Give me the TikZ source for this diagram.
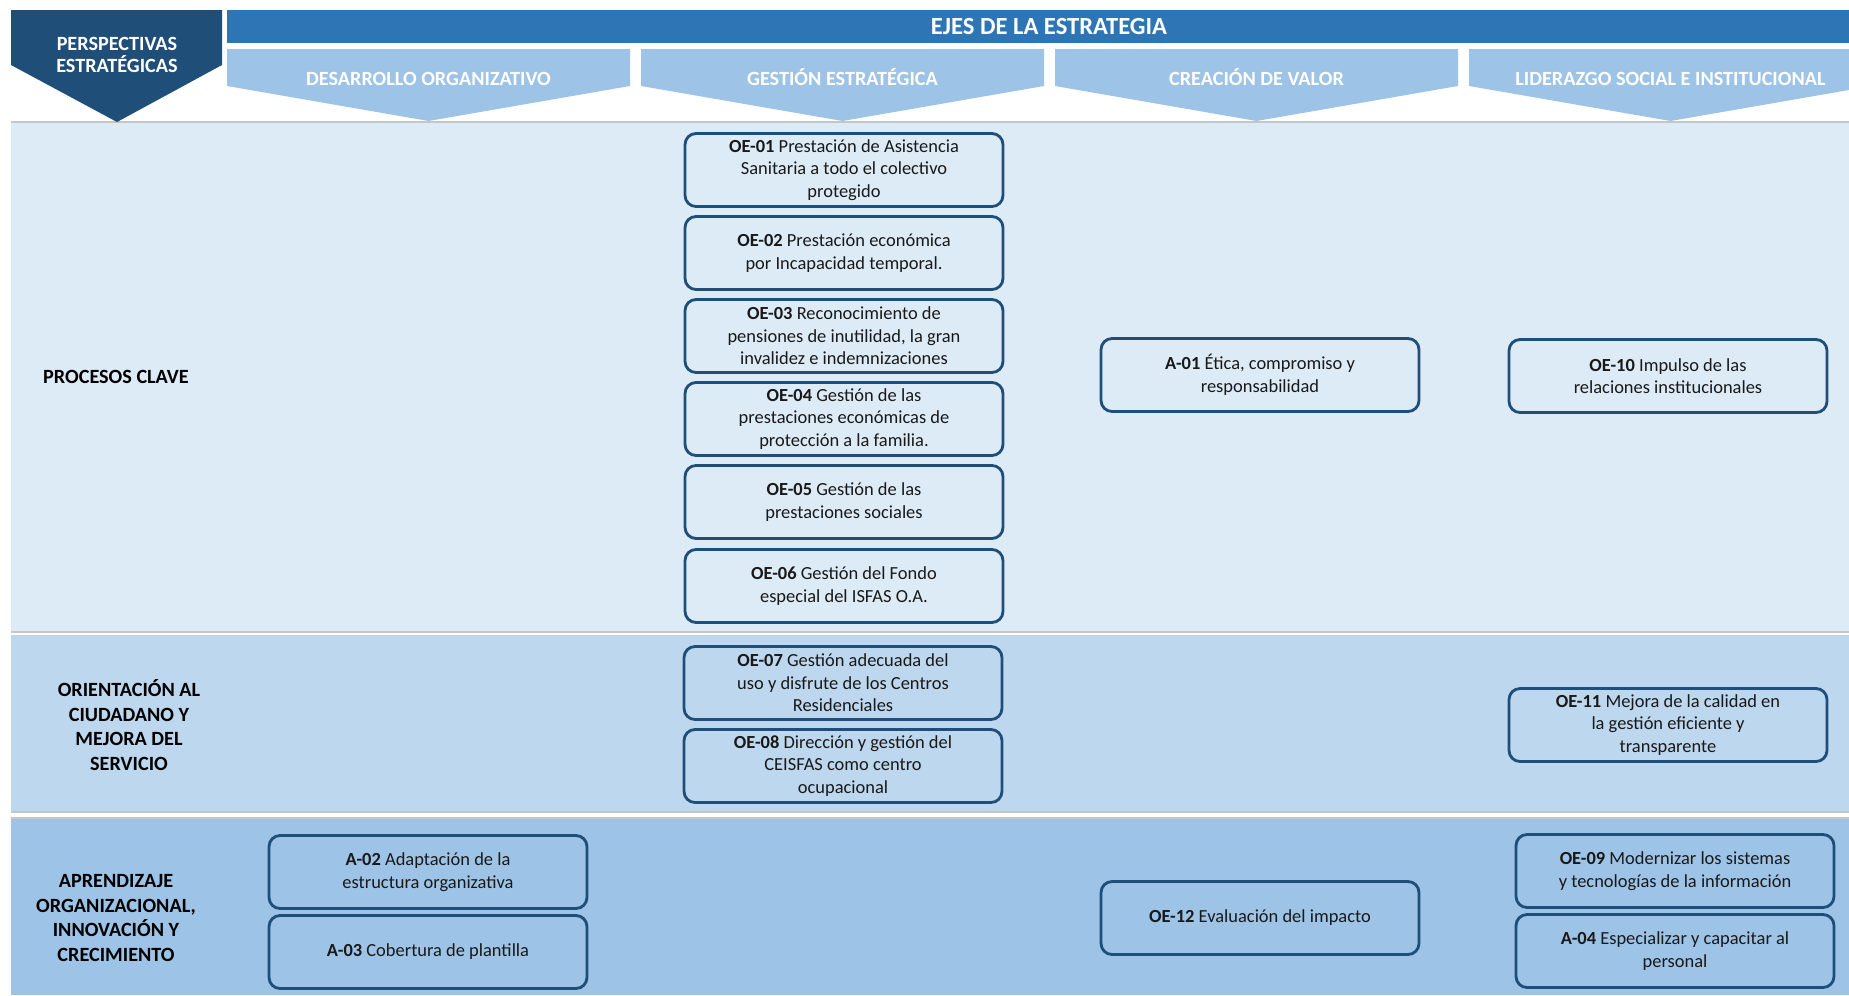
\documentclass[tikz,border=0pt]{standalone}
\usepackage{fontspec}
\setmainfont{Carlito}
\usepackage{xcolor}
\usepackage{tikz}
\usetikzlibrary{positioning}

\definecolor{navy}{HTML}{1F4E79}
\definecolor{barblue}{HTML}{2E75B6}
\definecolor{banner}{HTML}{9DC3E6}
\definecolor{rowA}{HTML}{DDEBF7}
\definecolor{rowB}{HTML}{BDD7EE}
\definecolor{rowC}{HTML}{9DC3E6}
\definecolor{boxline}{HTML}{1F4E79}

\begin{document}
\begin{tikzpicture}[x=0.02cm,y=-0.02cm,
  obj/.style={draw=boxline,line width=1.6pt,rounded corners=0.22cm,
    minimum width=6.36cm,minimum height=1.46cm,align=center,inner sep=0pt,
    text=black!90,font=\fontsize{10.5}{12.8}\selectfont},
  rowlab/.style={align=center,font=\fontsize{11.5}{14}\selectfont\bfseries},
  headtxt/.style={text=white,align=center,font=\fontsize{11.5}{13}\selectfont\bfseries}]

\useasboundingbox (0,0) rectangle (1849,995);
\clip (0,0) rectangle (1849,995);

% --- rows (perspectives) ---
\fill[rowA] (11,122) rectangle (1849,632);
\fill[rowB] (11,635) rectangle (1849,812);
\fill[rowC] (11,818) rectangle (1849,995);
\draw[gray!45,line width=0.8pt] (11,122) -- (1849,122);
\draw[gray!45,line width=0.8pt] (11,632) -- (1849,632);
\draw[gray!45,line width=0.8pt] (11,812) -- (1849,812);
\draw[gray!45,line width=0.8pt] (11,818) -- (1849,818);

% --- header ---
\fill[navy] (11,10) -- (222,10) -- (222,65) -- (117,122) -- (11,65) -- cycle;
\node[headtxt] (persp) at (117,55) {PERSPECTIVAS\\ESTRATÉGICAS};
\fill[barblue] (227,10) rectangle (1873,43);
\node[headtxt,font=\fontsize{14}{16}\selectfont\bfseries,text height=1.6ex,text depth=0.2ex] (ejes) at (1049,29) {EJES DE LA ESTRATEGIA};

% axes banners
\foreach \x/\name/\txt in {227/des/DESARROLLO ORGANIZATIVO,641/ges/GESTIÓN ESTRATÉGICA,
    1055/cre/CREACIÓN DE VALOR,1469/lid/LIDERAZGO SOCIAL E INSTITUCIONAL} {
  \fill[banner] (\x,49) -- (\x+403,49) -- (\x+403,86) -- (\x+201.5,121) -- (\x,86) -- cycle;
  \node[headtxt,text height=1.6ex,text depth=0.2ex] (\name) at (\x+201.5,79.5) {\txt};
}

% --- row labels ---
\node[rowlab] (clave) at (116,377) {PROCESOS CLAVE};
\node[rowlab] (ciud) at (129,725) {ORIENTACIÓN AL\\CIUDADANO Y\\MEJORA DEL\\SERVICIO};
\node[rowlab] (apren) at (116,918) {APRENDIZAJE\\ORGANIZACIONAL,\\INNOVACIÓN Y\\CRECIMIENTO};

% --- gestion estrategica ---
\node[obj] (oe01) at (844,170) {\textbf{OE-01} Prestación de Asistencia\\Sanitaria a todo el colectivo\\protegido};
\node[obj,below=0.144cm of oe01] (oe02) {\textbf{OE-02} Prestación económica\\por Incapacidad temporal.};
\node[obj,below=0.144cm of oe02] (oe03) {\textbf{OE-03} Reconocimiento de\\pensiones de inutilidad, la gran\\invalidez e indemnizaciones};
\node[obj,below=0.144cm of oe03] (oe04) {\textbf{OE-04} Gestión de las\\prestaciones económicas de\\protección a la familia.};
\node[obj,below=0.144cm of oe04] (oe05) {\textbf{OE-05} Gestión de las\\prestaciones sociales};
\node[obj,below=0.164cm of oe05] (oe06) {\textbf{OE-06} Gestión del Fondo\\especial del ISFAS O.A.};
\node[obj] (oe07) at (843,683) {\textbf{OE-07} Gestión adecuada del\\uso y disfrute de los Centros\\Residenciales};
\node[obj,below=0.144cm of oe07] (oe08) {\textbf{OE-08} Dirección y gestión del\\CEISFAS como centro\\ocupacional};

% --- creacion de valor ---
\node[obj] (a01) at (1260,375) {\textbf{A-01} Ética, compromiso y\\responsabilidad};
\node[obj] (oe12) at (1260,918) {\textbf{OE-12} Evaluación del impacto};

% --- liderazgo ---
\node[obj] (oe10) at (1668,376) {\textbf{OE-10} Impulso de las\\relaciones institucionales};
\node[obj] (oe11) at (1668,725) {\textbf{OE-11} Mejora de la calidad en\\la gestión eficiente y\\transparente};
\node[obj] (oe09) at (1675,871) {\textbf{OE-09} Modernizar los sistemas\\y tecnologías de la información};
\node[obj,below=0.084cm of oe09] (a04) {\textbf{A-04} Especializar y capacitar al\\personal};

% --- desarrollo organizativo ---
\node[obj] (a02) at (428,872) {\textbf{A-02} Adaptación de la\\estructura organizativa};
\node[obj,below=0.084cm of a02] (a03) {\textbf{A-03} Cobertura de plantilla};

\end{tikzpicture}
\end{document}
